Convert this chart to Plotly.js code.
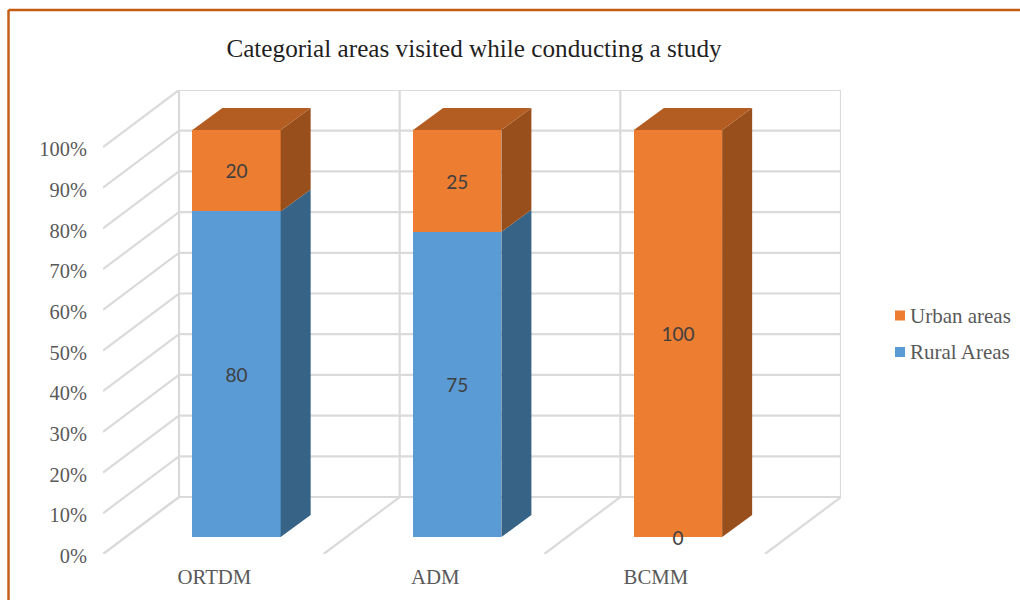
<!DOCTYPE html>
<html>
<head>
<meta charset="utf-8">
<script src="https://cdn.plot.ly/plotly-3.0.1.min.js"></script>
<style>html,body{margin:0;padding:0;background:#fff;overflow:hidden}</style>
</head>
<body>
<div id="chart" style="width:1020px;height:600px"></div>
<script>
// Share of areas visited per district, in percent
const categories = ['ORTDM', 'ADM', 'BCMM'];
const ruralAreas = [80, 75, 0];
const urbanAreas = [20, 25, 100];
const seriesNames = ['Rural Areas', 'Urban areas'];
const percentTicks = [0, 10, 20, 30, 40, 50, 60, 70, 80, 90, 100];

// Plot frame in pixels
const W = 1020, H = 600;
const L = 103, R = 841, T = 90, B = 554;
const unitPx = 4.07;        // pixels per percentage point
const slotPx = 220.75;      // pixels between categories
const firstBarPx = 236.5;   // centre of the first bar

// Perspective offsets, in axis units
const barWidth = 0.40;
const wallDx = 76 / slotPx, wallDy = 14;      // floor front edge to back wall
const barDx = 30 / slotPx, barDy = 22 / unitPx; // bar front face to bar back face
const barPlaneLift = 17 / unitPx;             // floor front edge to bar front face
const labelDrop = 3 / unitPx;                 // optical centring of the value labels

const xRange = [(L - firstBarPx) / slotPx, (R - firstBarPx) / slotPx];
const frontRange = [0, (B - T) / unitPx];
const barRange = [-barPlaneLift, frontRange[1] - barPlaneLift];

const COLORS = {
  rural: '#5B9BD5', ruralSide: '#376387',
  urban: '#ED7D31', urbanSide: '#984F1C', urbanTop: '#B45D22',
  grid: '#DADADA', text: '#595959', label: '#404040', frame: '#C55A11'
};
const serif = '"Liberation Serif", "Times New Roman", serif';

const idx = categories.map((_, i) => i);
const paperX = px => (px - L) / (R - L);
const paperY = py => (B - py) / (B - T);

// Back wall, floor and depth lines, all in the floor-front value axis
const gridX = [], gridY = [];
const addLine = (x0, y0, x1, y1) => { gridX.push(x0, x1, null); gridY.push(y0, y1, null); };
percentTicks.forEach(v => {
  addLine(xRange[0] + wallDx, v + wallDy, xRange[1], v + wallDy);
  addLine(xRange[0], v, xRange[0] + wallDx, v + wallDy);
});
for (let s = 0; s <= categories.length; s++) {
  const fx = xRange[0] + s * (xRange[1] - wallDx - xRange[0]) / categories.length;
  addLine(fx + wallDx, wallDy, fx + wallDx, 100 + wallDy);
  addLine(fx, 0, fx + wallDx, wallDy);
}

// Side and top faces of the stacked columns
const polygon = () => ({ x: [], y: [] });
const ruralSide = polygon(), urbanSide = polygon(), urbanTop = polygon();
const addPoly = (p, pts) => {
  pts.concat([pts[0]]).forEach(q => { p.x.push(q[0]); p.y.push(q[1]); });
  p.x.push(null); p.y.push(null);
};
const sideFace = (p, i, lo, hi) => {
  const xr = i + barWidth / 2;
  addPoly(p, [[xr, lo], [xr + barDx, lo + barDy], [xr + barDx, hi + barDy], [xr, hi]]);
};
idx.forEach(i => {
  const r = ruralAreas[i], total = r + urbanAreas[i];
  if (r > 0) sideFace(ruralSide, i, 0, r);
  if (urbanAreas[i] > 0) sideFace(urbanSide, i, r, total);
  const xl = i - barWidth / 2, xr = i + barWidth / 2;
  addPoly(urbanTop, [[xl, total], [xl + barDx, total + barDy], [xr + barDx, total + barDy], [xr, total]]);
});
const face = (p, color) => ({
  type: 'scatter', mode: 'lines', x: p.x, y: p.y, yaxis: 'y2',
  fill: 'toself', fillcolor: color, line: { width: 0 },
  showlegend: false, hoverinfo: 'skip', cliponaxis: false
});

const traces = [
  { type: 'scatter', mode: 'lines', x: gridX, y: gridY,
    line: { color: COLORS.grid, width: 2.2 }, showlegend: false,
    hoverinfo: 'skip', cliponaxis: false },
  face(ruralSide, COLORS.ruralSide),
  face(urbanSide, COLORS.urbanSide),
  face(urbanTop, COLORS.urbanTop),
  { type: 'bar', name: seriesNames[0], x: idx, y: ruralAreas, yaxis: 'y2',
    width: barWidth, marker: { color: COLORS.rural, line: { width: 0 } }, showlegend: false },
  { type: 'bar', name: seriesNames[1], x: idx, y: urbanAreas, yaxis: 'y2',
    width: barWidth, marker: { color: COLORS.urban, line: { width: 0 } }, showlegend: false },
  // Value labels, centred on each segment
  { type: 'scatter', mode: 'text', yaxis: 'y2', cliponaxis: false,
    x: idx.concat(idx),
    y: ruralAreas.map(v => v / 2 - labelDrop)
      .concat(urbanAreas.map((v, i) => ruralAreas[i] + v / 2 - labelDrop)),
    text: ruralAreas.map(String).concat(urbanAreas.map(String)),
    textposition: 'middle center',
    textfont: { family: 'Lato, "Open Sans", sans-serif', size: 19, color: COLORS.label },
    showlegend: false, hoverinfo: 'skip' }
];

// Legend entries drawn in the margin to the right of the plot
const legendRows = [
  { name: seriesNames[1], color: COLORS.urban, cy: 315.5 },
  { name: seriesNames[0], color: COLORS.rural, cy: 352 }
];
const shapes = legendRows.map(r => ({
  type: 'rect', xref: 'paper', yref: 'paper', line: { width: 0 }, fillcolor: r.color,
  x0: paperX(895), x1: paperX(905), y0: paperY(r.cy + 5), y1: paperY(r.cy - 5)
}));
// Outer chart frame, open past the right and bottom page edges
shapes.push(
  { type: 'line', xref: 'paper', yref: 'paper', line: { color: COLORS.frame, width: 2.4 },
    x0: paperX(8.5), x1: paperX(W + 4), y0: paperY(10), y1: paperY(10) },
  { type: 'line', xref: 'paper', yref: 'paper', line: { color: COLORS.frame, width: 2.4 },
    x0: paperX(8.5), x1: paperX(8.5), y0: paperY(10), y1: paperY(H + 4) }
);
const annotations = legendRows.map(r => ({
  xref: 'paper', yref: 'paper', x: paperX(908), y: paperY(r.cy),
  xanchor: 'left', yanchor: 'middle', showarrow: false, text: r.name,
  font: { family: serif, size: 21, color: COLORS.text }
}));

const layout = {
  width: W, height: H,
  margin: { l: L, r: W - R, t: T, b: H - B, pad: 0 },
  paper_bgcolor: '#FFFFFF', plot_bgcolor: 'rgba(0,0,0,0)',
  barmode: 'stack', showlegend: false,
  title: {
    text: 'Categorial areas visited while conducting a study',
    x: 474 / W, xanchor: 'center', y: 1 - 48 / H, yanchor: 'middle',
    font: { family: serif, size: 25.2, color: '#1F1F1F' }
  },
  xaxis: {
    range: xRange, showgrid: false, zeroline: false, showline: false,
    tickmode: 'array', tickvals: idx.map(i => i - 0.1), ticktext: categories,
    ticks: 'outside', ticklen: 4, tickcolor: 'rgba(0,0,0,0)',
    tickfont: { family: serif, size: 20.8, color: COLORS.text }, tickangle: 0
  },
  yaxis: {
    range: frontRange, showgrid: false, zeroline: false, showline: false,
    tickmode: 'array', tickvals: percentTicks, ticktext: percentTicks.map(v => v + '%'),
    ticks: 'outside', ticklen: 11, tickcolor: 'rgba(0,0,0,0)', ticklabelshift: 2,
    tickfont: { family: serif, size: 20.4, color: COLORS.text }
  },
  yaxis2: {
    range: barRange, overlaying: 'y', side: 'left', visible: false,
    showgrid: false, zeroline: false
  },
  shapes, annotations
};

Plotly.newPlot('chart', traces, layout, { displayModeBar: false, staticPlot: true });
</script>
</body>
</html>
